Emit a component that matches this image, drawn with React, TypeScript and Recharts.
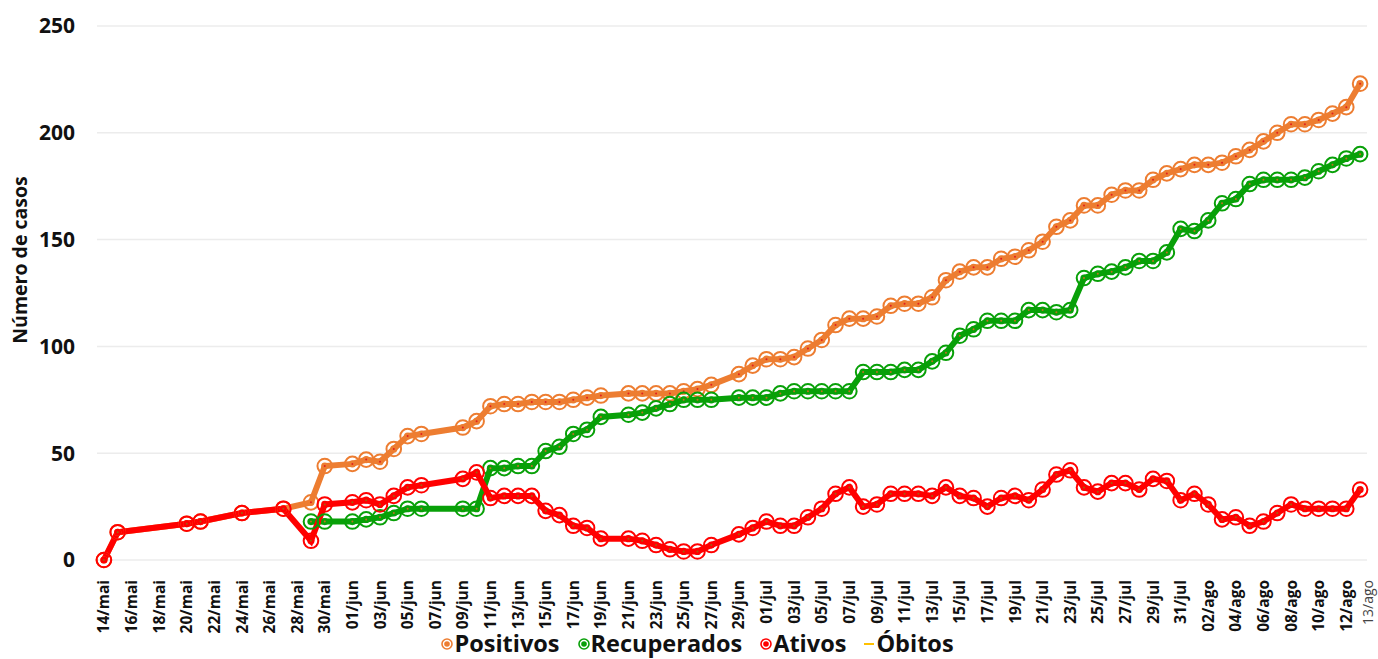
import React from "react";
import { LineChart, Line, XAxis, YAxis, CartesianGrid } from "recharts";

// dates with a reported value
const dates = [
  "14/mai", "15/mai", "20/mai", "21/mai", "24/mai", "27/mai", "29/mai", "30/mai",
  "01/jun", "02/jun", "03/jun", "04/jun", "05/jun", "06/jun", "09/jun", "10/jun",
  "11/jun", "12/jun", "13/jun", "14/jun", "15/jun", "16/jun", "17/jun", "18/jun",
  "19/jun", "21/jun", "22/jun", "23/jun", "24/jun", "25/jun", "26/jun", "27/jun",
  "29/jun", "30/jun",
  "01/jul", "02/jul", "03/jul", "04/jul", "05/jul", "06/jul", "07/jul", "08/jul",
  "09/jul", "10/jul", "11/jul", "12/jul", "13/jul", "14/jul", "15/jul", "16/jul",
  "17/jul", "18/jul", "19/jul", "20/jul", "21/jul", "22/jul", "23/jul", "24/jul",
  "25/jul", "26/jul", "27/jul", "28/jul", "29/jul", "30/jul", "31/jul",
  "01/ago", "02/ago", "03/ago", "04/ago", "05/ago", "06/ago", "07/ago", "08/ago",
  "09/ago", "10/ago", "11/ago", "12/ago", "13/ago",
];

const positivos = [
  0, 13, 17, 18, 22, 24, 27, 44,
  45, 47, 46, 52, 58, 59, 62, 65,
  72, 73, 73, 74, 74, 74, 75, 76,
  77, 78, 78, 78, 78, 79, 80, 82,
  87, 91,
  94, 94, 95, 99, 103, 110, 113, 113,
  114, 119, 120, 120, 123, 131, 135, 137,
  137, 141, 142, 145, 149, 156, 159, 166,
  166, 171, 173, 173, 178, 181, 183,
  185, 185, 186, 189, 192, 196, 200, 204,
  204, 206, 209, 212, 223,
];

const recuperados = [
  null, null, null, null, null, null, 18, 18,
  18, 19, 20, 22, 24, 24, 24, 24,
  43, 43, 44, 44, 51, 53, 59, 61,
  67, 68, 69, 71, 73, 75, 75, 75,
  76, 76,
  76, 78, 79, 79, 79, 79, 79, 88,
  88, 88, 89, 89, 93, 97, 105, 108,
  112, 112, 112, 117, 117, 116, 117, 132,
  134, 135, 137, 140, 140, 144, 155,
  154, 159, 167, 169, 176, 178, 178, 178,
  179, 182, 185, 188, 190,
];

const ativos = [
  0, 13, 17, 18, 22, 24, 9, 26,
  27, 28, 26, 30, 34, 35, 38, 41,
  29, 30, 30, 30, 23, 21, 16, 15,
  10, 10, 9, 7, 5, 4, 4, 7,
  12, 15,
  18, 16, 16, 20, 24, 31, 34, 25,
  26, 31, 31, 31, 30, 34, 30, 29,
  25, 29, 30, 28, 33, 40, 42, 34,
  32, 36, 36, 33, 38, 37, 28,
  31, 26, 19, 20, 16, 18, 22, 26,
  24, 24, 24, 24, 33,
];

// no deaths reported in the period
const obitos = dates.map(() => null);

const tickLabels = [
  "14/mai", "16/mai", "18/mai", "20/mai", "22/mai", "24/mai", "26/mai", "28/mai", "30/mai",
  "01/jun", "03/jun", "05/jun", "07/jun", "09/jun", "11/jun", "13/jun", "15/jun", "17/jun",
  "19/jun", "21/jun", "23/jun", "25/jun", "27/jun", "29/jun",
  "01/jul", "03/jul", "05/jul", "07/jul", "09/jul", "11/jul", "13/jul", "15/jul", "17/jul",
  "19/jul", "21/jul", "23/jul", "25/jul", "27/jul", "29/jul", "31/jul",
  "02/ago", "04/ago", "06/ago", "08/ago", "10/ago", "12/ago", "13/ago",
];

const yTicks = [0, 50, 100, 150, 200, 250];

const months = { mai: 4, jun: 5, jul: 6, ago: 7 };
const dayOf = (label) => {
  const [d, m] = label.split("/");
  return (Date.UTC(2020, months[m], Number(d)) - Date.UTC(2020, 4, 14)) / 86400000;
};

const data = dates.map((d, i) => ({
  day: dayOf(d),
  positivos: positivos[i],
  recuperados: recuperados[i],
  ativos: ativos[i],
  obitos: obitos[i],
}));

const tickDays = tickLabels.map(dayOf);
const labelByDay = {};
tickLabels.forEach((l) => (labelByDay[dayOf(l)] = l));

const FONT = "'Open Sans', Lato, sans-serif";

const series = [
  { key: "positivos", name: "Positivos", color: "#ED7D31", center: "#E02020" },
  { key: "recuperados", name: "Recuperados", color: "#08A008", center: "#C07020" },
  { key: "ativos", name: "Ativos", color: "#FF0000", center: "#A06010" },
];

const makeDot = (color, center) => (props) => {
  const { cx, cy, index } = props;
  if (cx == null || cy == null || isNaN(cy)) return <g key={index} />;
  return (
    <g key={index}>
      <circle cx={cx} cy={cy} r={7.3} fill="none" stroke={color} strokeWidth={2} />
      <circle cx={cx} cy={cy} r={3.6} fill={color} />
      <circle cx={cx} cy={cy} r={1} fill={center} />
    </g>
  );
};

const XTick = (props) => {
  const { x, y, payload } = props;
  const label = labelByDay[payload.value];
  const last = label === "13/ago";
  const tx = last ? x + 8 : x;
  const ty = y + 12;
  return (
    <text
      x={tx}
      y={ty}
      dy="0.36em"
      textAnchor="end"
      transform={`rotate(-90 ${tx} ${ty})`}
      fontFamily={FONT}
      fontSize={last ? 14 : 15.5}
      fontWeight={last ? 400 : 700}
      fill={last ? "#444" : "#111"}
    >
      {label}
    </text>
  );
};

function LegendIcon({ color }) {
  return (
    <svg width={12} height={12} style={{ marginRight: 1 }}>
      <circle cx={6} cy={6} r={5} fill="#fff" stroke={color} strokeWidth={1.6} />
      <circle cx={6} cy={6} r={2.8} fill={color} />
    </svg>
  );
}

export default function App() {
  return (
    <div style={{ position: "absolute", left: 0, top: 0, width: 1378, height: 659, background: "#fff", overflow: "hidden" }}>
      <LineChart
        width={1378}
        height={659}
        data={data}
        margin={{ top: 26, right: 11, left: 0, bottom: 0 }}
      >
        <CartesianGrid vertical={false} stroke="#ececec" strokeWidth={1.5} />
        <XAxis
          type="number"
          dataKey="day"
          domain={[-0.5, 91.5]}
          ticks={tickDays}
          interval={0}
          tick={<XTick />}
          tickLine={false}
          axisLine={false}
          height={99}
        />
        <YAxis
          domain={[0, 250]}
          ticks={yTicks}
          width={97}
          tickLine={false}
          axisLine={false}
          tickSize={0}
          tickMargin={22}
          tick={{ fontFamily: FONT, fontSize: 21, fontWeight: 700, fill: "#111" }}
          label={{
            content: () => (
              <text
                x={19}
                y={260}
                transform="rotate(-90 19 260)"
                textAnchor="middle"
                dominantBaseline="central"
                fontFamily={FONT}
                fontSize={19.5}
                fontWeight={700}
                fill="#111"
              >
                Número de casos
              </text>
            ),
          }}
        />
        {series.map((s) => (
          <Line
            key={s.key}
            type="linear"
            dataKey={s.key}
            name={s.name}
            stroke={s.color}
            strokeWidth={6}
            connectNulls
            dot={makeDot(s.color, s.center)}
            activeDot={false}
            isAnimationActive={false}
          />
        ))}
        <Line
          type="linear"
          dataKey="obitos"
          name="Óbitos"
          stroke="#FFC000"
          strokeWidth={2}
          dot={false}
          isAnimationActive={false}
        />
      </LineChart>
      <div
        style={{
          position: "absolute",
          left: 0,
          width: 1395,
          top: 631,
          display: "flex",
          justifyContent: "center",
          alignItems: "center",
          fontFamily: FONT,
          fontWeight: 700,
          fontSize: 23.5,
          lineHeight: "25px",
          color: "#111",
          whiteSpace: "nowrap",
        }}
      >
        {series.map((s) => (
          <span key={s.key} style={{ display: "flex", alignItems: "center", marginRight: 18 }}>
            <LegendIcon color={s.color} />
            {s.name}
          </span>
        ))}
        <span style={{ display: "flex", alignItems: "center" }}>
          <span style={{ display: "inline-block", width: 10, height: 2, background: "#FFC000", marginRight: 2 }} />
          Óbitos
        </span>
      </div>
    </div>
  );
}
